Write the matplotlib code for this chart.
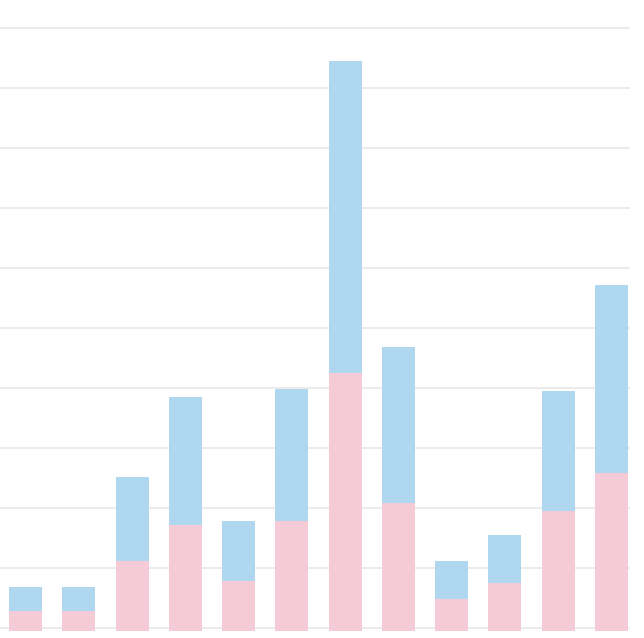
import matplotlib.pyplot as plt
import numpy as np

# Datos de las barras apiladas (unidades arbitrarias, 10 = una línea de cuadrícula)
categorias = np.arange(12)
serie_inferior = [3.33, 3.33, 11.67, 17.67, 8.33, 18.33, 43.0, 21.33, 5.33, 8.0, 20.0, 26.33]
serie_superior = [4.0, 4.0, 14.0, 21.33, 10.0, 22.0, 52.0, 26.0, 6.33, 8.0, 20.0, 31.33]
lineas_cuadricula = np.arange(0.5, 101, 10)

color_rosa = "#F6CBD8"
color_azul = "#B0D7F0"

fig = plt.figure(figsize=(6.44, 6.38), dpi=100)
ax = fig.add_axes([0, 7 / 638, 630 / 644, 631 / 638])

ax.bar(categorias, serie_inferior, width=0.62, color=color_rosa, linewidth=0)
ax.bar(categorias, serie_superior, width=0.62, bottom=serie_inferior, color=color_azul, linewidth=0)

# Formato del gráfico
ax.set_xlim(-0.479, 11.348)
ax.set_ylim(0, 631 / 6)
ax.set_yticks(lineas_cuadricula)
ax.set_xticks([])
ax.tick_params(left=False, labelleft=False)
ax.yaxis.grid(True, color="#EBEBEB", linewidth=1.5)
ax.set_axisbelow(True)
for lado in ax.spines.values():
    lado.set_visible(False)

fig.savefig("out.png", dpi=100)
